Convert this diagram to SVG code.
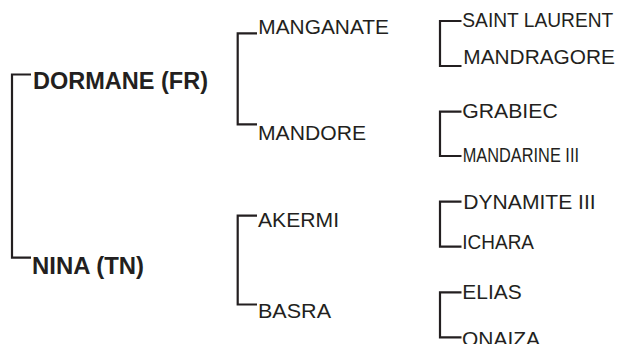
<svg xmlns="http://www.w3.org/2000/svg" width="619" height="344" viewBox="0 0 619 344">
<style>
.bk{fill:none;stroke:#231f20;stroke-width:2.2;stroke-linejoin:miter;stroke-linecap:butt}
.t{font-family:"Liberation Sans",Arial,sans-serif;font-size:21px;fill:#231f20}
.b{font-family:"Liberation Sans",Arial,sans-serif;font-size:24px;font-weight:bold;fill:#231f20}
</style>
<rect width="619" height="344" fill="#ffffff"/>
<g id="connectors">
<path class="bk" d="M31 74.5H12V257.7H31"/>
<path class="bk" d="M257 33.3H237.7V124.3H257"/>
<path class="bk" d="M257 215.7H237.7V304.5H257"/>
<path class="bk" d="M461.5 21H440V66H461.5"/>
<path class="bk" d="M461.5 111.7H440V156H461.5"/>
<path class="bk" d="M461.5 201.7H440V246.7H461.5"/>
<path class="bk" d="M461.5 292.3H440V337.3H461.5"/>
</g>
<g id="dormane"><text class="b" x="33" y="88.8" textLength="175" lengthAdjust="spacingAndGlyphs">DORMANE (FR)</text></g>
<g id="nina"><text class="b" x="32" y="274" textLength="112" lengthAdjust="spacingAndGlyphs">NINA (TN)</text></g>
<g id="manganate"><text class="t" x="258.3" y="34" textLength="130.7" lengthAdjust="spacingAndGlyphs">MANGANATE</text></g>
<g id="mandore"><text class="t" x="258" y="140" textLength="108" lengthAdjust="spacingAndGlyphs">MANDORE</text></g>
<g id="akermi"><text class="t" x="258" y="227.3" textLength="81" lengthAdjust="spacingAndGlyphs">AKERMI</text></g>
<g id="basra"><text class="t" x="258" y="317.7" textLength="73" lengthAdjust="spacingAndGlyphs">BASRA</text></g>
<g id="saint-laurent"><text class="t" x="462.3" y="26.7" textLength="151" lengthAdjust="spacingAndGlyphs">SAINT LAURENT</text></g>
<g id="mandragore"><text class="t" x="463.3" y="64.3" textLength="151.7" lengthAdjust="spacingAndGlyphs">MANDRAGORE</text></g>
<g id="grabiec"><text class="t" x="462.3" y="118.3" textLength="95.4" lengthAdjust="spacingAndGlyphs">GRABIEC</text></g>
<g id="mandarine-iii"><text class="t" x="462.7" y="161.7" textLength="116.3" lengthAdjust="spacingAndGlyphs">MANDARINE III</text></g>
<g id="dynamite-iii"><text class="t" x="463.3" y="209" textLength="132.4" lengthAdjust="spacingAndGlyphs">DYNAMITE III</text></g>
<g id="ichara"><text class="t" x="462.3" y="249.3" textLength="71.7" lengthAdjust="spacingAndGlyphs">ICHARA</text></g>
<g id="elias"><text class="t" x="462.3" y="299" textLength="59.4" lengthAdjust="spacingAndGlyphs">ELIAS</text></g>
<g id="onaiza"><text class="t" x="462" y="345.5" textLength="78" lengthAdjust="spacingAndGlyphs">ONAIZA</text></g>
</svg>
